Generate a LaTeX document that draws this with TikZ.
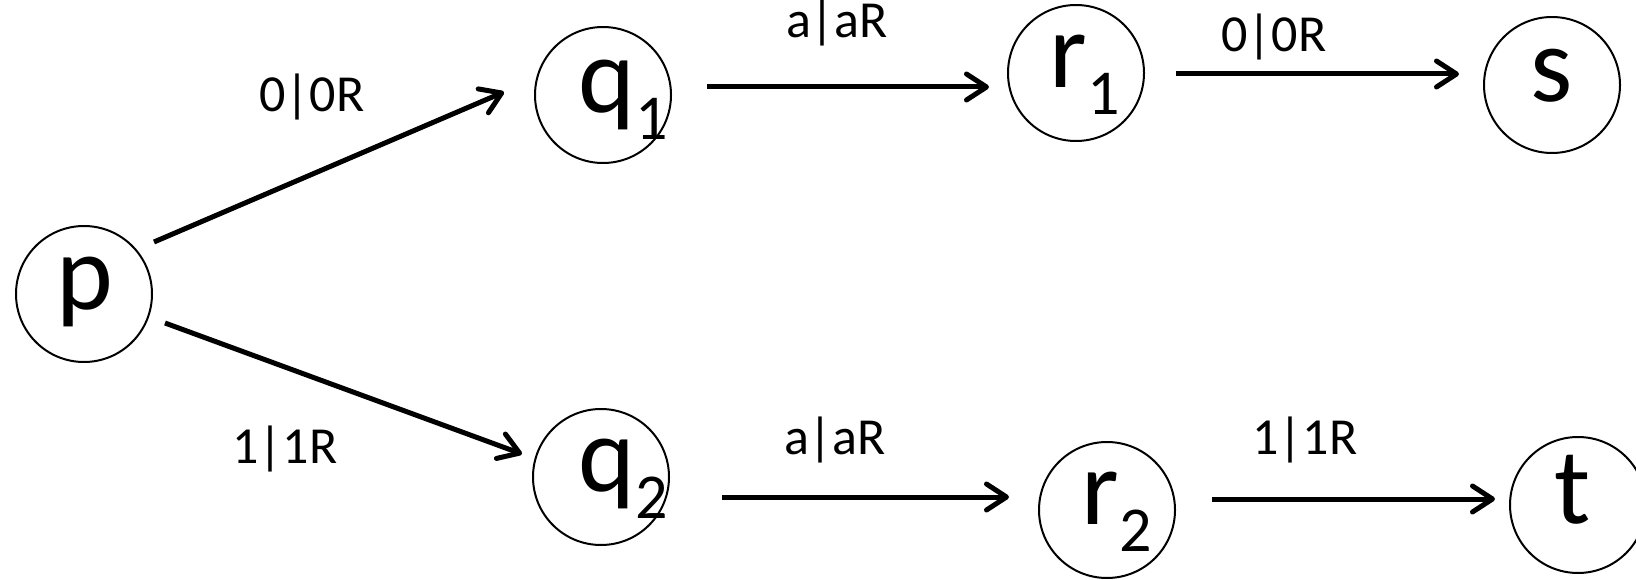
\documentclass[tikz,border=0pt]{standalone}
\usepackage{fontspec}
\setmainfont{Carlito}
\usetikzlibrary{arrows.meta}
\newcommand{\bigtxt}{\fontsize{108}{108}\selectfont}
\newcommand{\subtxt}[1]{\raisebox{-27pt}{\fontsize{64}{64}\selectfont #1}}
\tikzset{
  state/.style={circle, draw=black, line width=2pt, minimum size=136pt, inner sep=0pt},
  stxt/.style={inner sep=0pt, font=\bigtxt},
  lbl/.style={inner sep=0pt, anchor=base, font=\fontsize{52}{52}\selectfont},
  trans/.style={line width=5pt, -{Straight Barb[length=20pt,width=26pt,round]}}
}
\begin{document}
\begin{tikzpicture}[x=1pt,y=-1pt]
\fill[white] (0,0) rectangle (1636,580);
\useasboundingbox (0,0) rectangle (1636,580);
% states
\node[state] (p)  at (84,294) {};
\node[state] (q1) at (603,95) {};
\node[state] (r1) at (1076,73) {};
\node[state] (s)  at (1552,85) {};
\node[state] (q2) at (601,477) {};
\node[state] (r2) at (1107,510) {};
\node[state] (t)  at (1578,505) {};
% state texts
\node[stxt] (pt)  at ([shift={(1,-2)}]p.center) {p};
\node[stxt] (q1t) at ([shift={(20,5)}]q1.center) {q\subtxt{1}};
\node[stxt] (r1t) at ([shift={(9,2)}]r1.center) {r\subtxt{1}};
\node[stxt] (st)  at ([shift={(0,-9)}]s.center) {s};
\node[stxt] (q2t) at ([shift={(22,2)}]q2.center) {q\subtxt{2}};
\node[stxt] (r2t) at ([shift={(10,2)}]r2.center) {r\subtxt{2}};
\node[stxt] (tt)  at ([shift={(-5,-15)}]t.center) {t};
% transitions
\draw[trans] ([shift={(70,-52)}]p.center) -- ([shift={(-99,-3)}]q1.center);
\draw[trans] ([shift={(81,29)}]p.center) -- ([shift={(-79,-23)}]q2.center);
\draw[trans] ([shift={(104,-8)}]q1.center) -- ([shift={(-87,14)}]r1.center);
\draw[trans] ([shift={(100,1)}]r1.center) -- ([shift={(-93,-11)}]s.center);
\draw[trans] ([shift={(121,20)}]q2.center) -- ([shift={(-98,-13)}]r2.center);
\draw[trans] ([shift={(105,-11)}]r2.center) -- ([shift={(-83,-6)}]t.center);
% labels
\node[lbl] (l1) at (312,112) {0|0R};
\node[lbl] (l2) at (285,463) {1|1R};
\node[lbl] (l3) at (837,38) {a|aR};
\node[lbl] (l4) at (1274,52) {0|0R};
\node[lbl] (l5) at (835,454) {a|aR};
\node[lbl] (l6) at (1305,454) {1|1R};
\end{tikzpicture}
\end{document}
